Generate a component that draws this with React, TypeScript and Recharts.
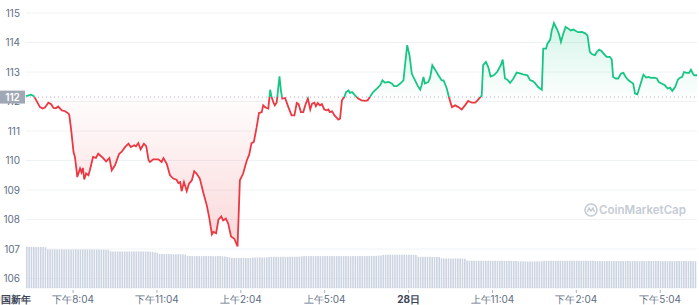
import { ComposedChart, Area, Bar, XAxis, YAxis, CartesianGrid, ReferenceLine } from 'recharts'

// minutes since the start of the 24h window, and the price read at that moment
const priceTimes = [
  0, 6, 11, 17, 22, 30, 36, 41, 48, 54,
  59, 64, 69, 77, 84, 91, 93, 97, 102, 105,
  109, 110, 116, 119, 122, 125, 129, 134, 137, 144,
  150, 155, 163, 172, 179, 184, 191, 200, 205, 213,
  220, 225, 232, 236, 241, 246, 253, 258, 263, 266,
  273, 284, 291, 295, 302, 309, 316, 323, 327, 331,
  334, 339, 345, 350, 356, 361, 366, 373, 381, 388,
  393, 399, 402, 408, 413, 419, 423, 429, 434, 440,
  447, 454, 459, 466, 474, 479, 484, 489, 495, 500,
  506, 509, 513, 517, 520, 524, 527, 531, 534, 538,
  544, 547, 550, 556, 563, 570, 576, 581, 585, 590,
  595, 600, 605, 610, 614, 619, 622, 626, 631, 635,
  640, 645, 649, 652, 657, 662, 667, 670, 674, 678,
  683, 687, 692, 695, 700, 706, 713, 720, 728, 733,
  738, 745, 753, 760, 765, 770, 778, 785, 790, 796,
  803, 810, 813, 818, 823, 828, 835, 841, 846, 849,
  853, 856, 863, 867, 872, 878, 885, 892, 896, 899,
  903, 908, 914, 921, 928, 935, 942, 949, 957, 964,
  969, 974, 978, 981, 987, 992, 997, 1004, 1011, 1019,
  1023, 1028, 1033, 1039, 1046, 1053, 1060, 1067, 1076, 1082,
  1087, 1092, 1099, 1107, 1110, 1116, 1119, 1125, 1128, 1133,
  1139, 1144, 1148, 1153, 1158, 1164, 1169, 1175, 1180, 1185,
  1193, 1200, 1205, 1210, 1215, 1221, 1225, 1230, 1235, 1241,
  1246, 1253, 1257, 1260, 1266, 1271, 1277, 1282, 1287, 1293,
  1298, 1303, 1307, 1312, 1318, 1325, 1331, 1336, 1341, 1348,
  1354, 1358, 1364, 1371, 1377, 1382, 1387, 1393, 1399, 1404,
  1408, 1412, 1418, 1423, 1427, 1431, 1434, 1440,
]

const priceValues = [
  112.18, 112.21, 112.23, 112.18, 112.04, 111.81, 111.76, 111.8, 111.96, 111.91,
  111.78, 111.77, 111.83, 111.7, 111.67, 111.59, 111.53, 111.03, 110.29, 110.12,
  109.61, 109.44, 109.73, 109.6, 109.75, 109.36, 109.56, 109.5, 109.67, 110.12,
  110.09, 110.23, 110.12, 109.97, 110.08, 109.67, 109.84, 110.23, 110.29, 110.46,
  110.57, 110.46, 110.52, 110.48, 110.59, 110.38, 110.57, 110.49, 110.01, 109.95,
  110.04, 110.04, 109.95, 110.08, 109.89, 109.5, 109.39, 109.35, 109.24, 109.27,
  108.96, 109.27, 108.96, 109.22, 109.33, 109.64, 109.56, 109.39, 108.88, 108.48,
  108.08, 107.5, 107.58, 107.54, 108.0, 108.11, 107.97, 108.03, 107.86, 107.43,
  107.35, 107.09, 109.33, 109.56, 110.01, 110.2, 110.59, 110.63, 111.13, 111.61,
  111.64, 111.87, 111.81, 111.78, 111.76, 112.4, 112.15, 111.97, 111.87, 111.97,
  112.85, 112.38, 112.1, 112.12, 111.81, 111.53, 111.53, 111.95, 111.91, 111.64,
  111.64, 111.91, 112.1, 111.73, 111.93, 111.96, 111.84, 111.95, 111.87, 111.91,
  111.73, 111.7, 111.73, 111.64, 111.67, 111.53, 111.45, 111.39, 111.42, 112.04,
  112.15, 112.32, 112.38, 112.29, 112.32, 112.21, 112.1, 112.04, 112.02, 112.04,
  112.15, 112.32, 112.44, 112.55, 112.72, 112.64, 112.66, 112.61, 112.52, 112.52,
  112.61, 112.72, 113.17, 113.91, 113.57, 112.94, 112.72, 112.52, 112.4, 112.55,
  112.83, 112.61, 112.66, 112.79, 113.23, 113.08, 112.89, 112.72, 112.72, 112.61,
  112.44, 112.13, 111.81, 111.87, 111.81, 111.73, 111.87, 112.02, 111.96, 111.96,
  112.04, 112.13, 112.21, 113.23, 113.34, 113.17, 112.85, 112.89, 113.0, 113.23,
  113.42, 112.78, 112.74, 112.63, 112.78, 112.98, 112.95, 112.92, 112.89, 112.72,
  112.7, 112.63, 112.49, 112.4, 113.79, 113.79, 113.96, 114.1, 114.39, 114.66,
  114.47, 114.28, 114.02, 114.3, 114.53, 114.47, 114.41, 114.44, 114.39, 114.35,
  114.36, 114.31, 114.24, 113.68, 113.6, 113.57, 113.68, 113.76, 113.71, 113.6,
  113.51, 113.51, 113.43, 112.83, 112.78, 112.78, 112.95, 112.97, 112.83, 112.72,
  112.66, 112.61, 112.27, 112.24, 112.55, 112.91, 112.81, 112.83, 112.8, 112.81,
  112.78, 112.66, 112.61, 112.55, 112.44, 112.47, 112.36, 112.49, 112.74, 112.81,
  112.83, 113.0, 112.97, 112.97, 113.08, 112.95, 112.89, 112.89,
]

// 24h volume, one bar per 5 minutes
const volumes = [
  4.14, 4.14, 4.13, 4.13, 4.12, 4.12, 4.11, 4.1, 4.08, 3.88, 3.87, 3.87,
  3.87, 3.87, 3.86, 3.87, 3.87, 3.87, 3.86, 3.86, 3.87, 3.87, 3.87, 3.87,
  3.86, 3.86, 3.87, 3.87, 3.87, 3.86, 3.86, 3.86, 3.85, 3.84, 3.83, 3.82,
  3.68, 3.67, 3.67, 3.67, 3.67, 3.67, 3.67, 3.66, 3.66, 3.67, 3.67, 3.67,
  3.67, 3.66, 3.66, 3.66, 3.65, 3.64, 3.62, 3.58, 3.52, 3.42, 3.4, 3.4,
  3.4, 3.4, 3.4, 3.39, 3.39, 3.4, 3.4, 3.38, 3.35, 3.22, 3.2, 3.2,
  3.2, 3.2, 3.2, 3.19, 3.2, 3.2, 3.2, 3.2, 3.19, 3.19, 3.2, 3.2,
  3.18, 3.16, 3.12, 3.08, 3.04, 3.01, 3.0, 3.0, 3.0, 3.0, 3.0, 3.01,
  3.02, 3.06, 3.07, 3.07, 3.07, 3.07, 3.07, 3.08, 3.1, 3.13, 3.13, 3.13,
  3.13, 3.13, 3.13, 3.13, 3.13, 3.14, 3.14, 3.13, 3.14, 3.15, 3.17, 3.2,
  3.2, 3.2, 3.21, 3.2, 3.2, 3.2, 3.2, 3.2, 3.2, 3.21, 3.2, 3.2,
  3.2, 3.2, 3.2, 3.2, 3.2, 3.2, 3.2, 3.19, 3.2, 3.2, 3.2, 3.2,
  3.2, 3.2, 3.21, 3.22, 3.22, 3.22, 3.23, 3.25, 3.27, 3.32, 3.33, 3.34,
  3.34, 3.34, 3.34, 3.34, 3.34, 3.34, 3.33, 3.33, 3.33, 3.33, 3.33, 3.32,
  3.14, 3.13, 3.13, 3.13, 3.13, 3.13, 3.12, 3.12, 3.11, 3.1, 2.98, 2.97,
  2.97, 2.97, 2.97, 2.97, 2.97, 2.96, 2.96, 2.95, 2.93, 2.75, 2.73, 2.73,
  2.73, 2.73, 2.73, 2.72, 2.73, 2.73, 2.73, 2.73, 2.72, 2.73, 2.73, 2.73,
  2.73, 2.73, 2.72, 2.72, 2.72, 2.71, 2.7, 2.67, 2.67, 2.67, 2.67, 2.66,
  2.66, 2.67, 2.67, 2.67, 2.67, 2.68, 2.72, 2.73, 2.73, 2.73, 2.73, 2.73,
  2.74, 2.74, 2.73, 2.73, 2.73, 2.73, 2.74, 2.74, 2.74, 2.73, 2.73, 2.73,
  2.73, 2.73, 2.73, 2.72, 2.72, 2.7, 2.7, 2.7, 2.7, 2.7, 2.7, 2.7,
  2.7, 2.71, 2.71, 2.7, 2.7, 2.7, 2.7, 2.7, 2.7, 2.7, 2.69, 2.69,
  2.7, 2.7, 2.7, 2.7, 2.7, 2.7, 2.7, 2.7, 2.7, 2.69, 2.69, 2.69,
  2.69, 2.69, 2.7, 2.7, 2.7, 2.7, 2.7, 2.7, 2.7, 2.7, 2.69, 2.69,
]

const xTickMinutes = [0, 101, 281, 461, 641, 821, 1001, 1181, 1361]
const xTickLabels = ['中国新年', '下午8:04', '下午11:04', '上午2:04', '上午5:04', '28日', '上午11:04', '下午2:04', '下午5:04']
const yTicks = [106, 107, 108, 109, 110, 111, 112, 113, 114, 115]
const basePrice = 112.15

const W = 699
const H = 305
const MARGIN_TOP = 13
const MARGIN_RIGHT = 2
const AXIS_W = 26
const AXIS_H = 17
const PRICE_DOMAIN: [number, number] = [105.68, 115]
const GREEN = '#16c784'
const RED = '#ea3943'
const LABEL = '#616e85'

const priceRows = priceTimes.map((t, i) => ({ t, price: priceValues[i] }))
const volumeRows = volumes.map((vol, i) => ({ t: i * 5 + 2.5, vol }))

const maxP = Math.max(...priceValues)
const minP = Math.min(...priceValues)
const split = (maxP - basePrice) / (maxP - minP)

function XTick(props: any) {
  const { x, y, payload } = props
  const idx = xTickMinutes.indexOf(payload.value)
  const label = xTickLabels[idx]
  const first = idx === 0
  const special = label === '中国新年' || label === '28日'
  return (
    <g>
      {!first && <line x1={x} x2={x} y1={y + 2} y2={y + 5} stroke="#a6b0c3" />}
      <text
        x={first ? x + 5 : x}
        y={y + 15}
        textAnchor={first ? 'end' : 'middle'}
        fontSize={first ? 9.5 : 10}
        fontWeight={special ? 700 : 400}
        fill={special ? '#3d4556' : LABEL}
      >
        {label}
      </text>
    </g>
  )
}

function BaseTag(props: any) {
  const vb = props.viewBox || {}
  return (
    <g>
      <rect x={vb.x - AXIS_W} y={vb.y - 6.5} width={AXIS_W - 1} height={13} fill="#a1a8b5" />
      <text x={vb.x - AXIS_W / 2 - 0.5} y={vb.y} dy="0.36em" textAnchor="middle" fontSize={10} fontWeight={600} fill="#fff">
        {basePrice.toFixed(0)}
      </text>
    </g>
  )
}

export default function App() {
  const maxVol = Math.max(...volumes)
  return (
    <div style={{ position: 'absolute', left: 0, top: 0, width: W, height: H, fontFamily: 'Inter, sans-serif', background: '#fff' }}>
      {/* grid, axes and volume */}
      <div style={{ position: 'absolute', left: 0, top: 0 }}>
        <ComposedChart width={W} height={H} data={volumeRows} margin={{ top: MARGIN_TOP, right: MARGIN_RIGHT, bottom: 0, left: 0 }}>
          <CartesianGrid vertical={false} stroke="#eff2f5" yAxisId="price" />
          <XAxis
            dataKey="t"
            type="number"
            domain={[0, 1440]}
            ticks={xTickMinutes}
            interval={0}
            height={AXIS_H}
            axisLine={false}
            tickLine={false}
            tickSize={0}
            tickMargin={0}
            tick={<XTick />}
          />
          <YAxis
            yAxisId="price"
            domain={PRICE_DOMAIN}
            ticks={yTicks}
            width={AXIS_W}
            axisLine={false}
            tickLine={false}
            tickSize={0}
            tickMargin={6}
            allowDataOverflow
            tick={{ fontSize: 10, fill: LABEL }}
          />
          <YAxis yAxisId="vol" hide domain={[0, maxVol * 6.66]} />
          <Bar dataKey="vol" yAxisId="vol" fill="#cdd4e1" barSize={1.6} isAnimationActive={false} />
        </ComposedChart>
      </div>

      {/* price line */}
      <div style={{ position: 'absolute', left: 0, top: 0 }}>
        <ComposedChart width={W} height={H} data={priceRows} margin={{ top: MARGIN_TOP, right: MARGIN_RIGHT, bottom: AXIS_H, left: AXIS_W }}>
          <defs>
            <linearGradient id="priceFill" x1="0" y1="0" x2="0" y2="1">
              <stop offset={0} stopColor={GREEN} stopOpacity={0.3} />
              <stop offset={split} stopColor={GREEN} stopOpacity={0.02} />
              <stop offset={split} stopColor={RED} stopOpacity={0.02} />
              <stop offset={1} stopColor={RED} stopOpacity={0.33} />
            </linearGradient>
            <linearGradient id="priceStroke" x1="0" y1="0" x2="0" y2="1">
              <stop offset={split} stopColor={GREEN} />
              <stop offset={split} stopColor={RED} />
            </linearGradient>
          </defs>
          <XAxis dataKey="t" type="number" domain={[0, 1440]} hide />
          <YAxis domain={PRICE_DOMAIN} hide allowDataOverflow />
          <ReferenceLine y={basePrice} stroke="#a6b0c3" strokeDasharray="1 3" label={<BaseTag />} />
          <Area
            type="linear"
            dataKey="price"
            baseValue={basePrice}
            stroke="url(#priceStroke)"
            strokeWidth={1.8}
            fill="url(#priceFill)"
            dot={false}
            activeDot={false}
            isAnimationActive={false}
          />
        </ComposedChart>
      </div>

      {/* watermark */}
      <svg width={W} height={H} style={{ position: 'absolute', left: 0, top: 0, pointerEvents: 'none' }}>
        <circle cx={591} cy={210} r={6} fill="none" stroke="#c5cbd5" strokeWidth={1.6} />
        <path d="M587.5 212 L589 208 L591 211 L593 208 L594.5 212" fill="none" stroke="#c5cbd5" strokeWidth={1.4} />
        <text x={599} y={214} fontSize={11.5} fontWeight={600} fill="#c5cbd5" fontFamily="Inter, sans-serif">
          CoinMarketCap
        </text>
      </svg>
    </div>
  )
}
